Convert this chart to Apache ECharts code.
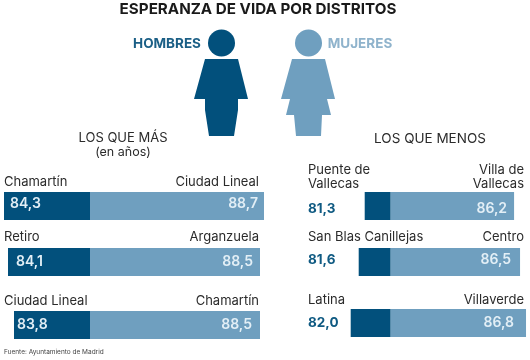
<!DOCTYPE html>
<html><head><meta charset="utf-8">
<style>html,body{margin:0;padding:0;background:#fff}#c{width:530px;height:360px}</style>
<script src="https://cdn.jsdelivr.net/npm/echarts@6/dist/echarts.min.js"></script>
</head><body><div id="c"></div>
<script>
const titleText = 'ESPERANZA DE VIDA POR DISTRITOS';
const hombresMas = ['Chamartín', 'Retiro', 'Ciudad Lineal'];
const hombresMasValues = [84.3, 84.1, 83.8];
const mujeresMas = ['Ciudad Lineal', 'Arganzuela', 'Chamartín'];
const mujeresMasValues = [88.7, 88.5, 88.5];
const hombresMenos = ['Puente de\nVallecas', 'San Blas Canillejas', 'Latina'];
const hombresMenosValues = [81.3, 81.6, 82.0];
const mujeresMenos = ['Villa de\nVallecas', 'Centro', 'Villaverde'];
const mujeresMenosValues = [86.2, 86.5, 86.8];
const baseYear = 80;

const DARK = '#02507c', LIGHT = '#6f9fbf', INK = '#2b2b2b';
const FONT = 'Inter, Roboto, sans-serif';
const fmt = v => v.toFixed(1).replace('.', ',');
const pxPerYear = 20;

const panels = [
  {center: 90, darkMax: 84.5, lightMax: 89, tops: [192, 248, 311], dn: hombresMas, dv: hombresMasValues, ln: mujeresMas, lv: mujeresMasValues,
   nameL: 4, nameR: 259, nameY: [182, 237, 301], inside: true, dPad: [6, 8, 3], lPad: [6, 7, 8], dy: [-2, 0, 0]},
  {center: 390.7, darkMax: 84.5, lightMax: 87, tops: [192, 248, 309], dn: hombresMenos, dv: hombresMenosValues, ln: mujeresMenos, lv: mujeresMenosValues,
   nameL: 308, nameR: 524, nameY: [177, 237, 300], inside: false, lPad: [7, 9, 12], dy: [3, -2, 0]}
];

const grid = [], xAxis = [], yAxis = [], series = [], graphic = [];
function addBar(left, width, top, min, max, inverse, value, color, labelOpt) {
  const i = grid.length;
  grid.push({left, top, width, height: 28, containLabel: false});
  xAxis.push({type: 'value', gridIndex: i, min, max, inverse, show: false});
  yAxis.push({type: 'category', gridIndex: i, data: [''], show: false});
  series.push({type: 'bar', xAxisIndex: i, yAxisIndex: i, data: [value], barWidth: 28,
    itemStyle: {color}, silent: true, label: labelOpt});
}
function txt(x, y, text, opt) {
  graphic.push({type: 'text', silent: true, x, y, style: Object.assign({
    text, fontFamily: FONT, fontSize: 13, fill: INK, textVerticalAlign: 'middle', lineHeight: 14
  }, opt || {})});
}
const numLabel = (position, distance, dy) => ({
  show: true, position, distance, offset: [0, dy], formatter: p => fmt(p.value),
  color: '#e3eff6', fontFamily: FONT, fontSize: 14, fontWeight: 600
});

panels.forEach(p => {
  p.tops.forEach((top, r) => {
    const dW = (p.darkMax - baseYear) * pxPerYear, lW = (p.lightMax - baseYear) * pxPerYear;
    addBar(p.center - dW, dW, top, baseYear, p.darkMax, true, p.dv[r], DARK,
      p.inside ? numLabel('insideLeft', p.dPad[r], p.dy[r]) : {show: false});
    addBar(p.center, lW, top, baseYear, p.lightMax, false, p.lv[r], LIGHT, numLabel('insideRight', p.lPad[r], p.dy[r]));
    txt(p.nameL, p.nameY[r], p.dn[r], {textAlign: 'left'});
    txt(p.nameR, p.nameY[r], p.ln[r], {textAlign: 'right'});
    if (!p.inside) txt(308, top + 14 + p.dy[r], fmt(p.dv[r]), {fill: '#0f5a82', fontSize: 13.5, fontWeight: 700, textAlign: 'left'});
  });
});

txt(258, 9, titleText, {fontSize: 15.2, fontWeight: 700, fill: '#1a1a1a', textAlign: 'center'});
txt(167, 44, 'HOMBRES', {fontSize: 13.5, fontWeight: 700, fill: '#1b5f86', textAlign: 'center'});
txt(360, 44, 'MUJERES', {fontSize: 13.5, fontWeight: 700, fill: '#8fb3cc', textAlign: 'center'});
txt(123, 138, 'LOS QUE MÁS', {fontSize: 13, textAlign: 'center'});
txt(123, 152, '(en años)', {fontSize: 12.5, textAlign: 'center'});
txt(430, 139, 'LOS QUE MENOS', {fontSize: 13.5, textAlign: 'center'});
txt(4, 352, 'Fuente: Ayuntamiento de Madrid', {fontSize: 6.5, fill: '#444', textAlign: 'left'});

graphic.push({type: 'circle', silent: true, shape: {cx: 221.5, cy: 43, r: 13.5}, style: {fill: DARK}});
graphic.push({type: 'circle', silent: true, shape: {cx: 308.5, cy: 43, r: 13.5}, style: {fill: LIGHT}});
graphic.push({type: 'polygon', silent: true, shape: {points: [[205,59],[238,59],[248,99],[238,99],[238,110],[234,136],[209,136],[205,110],[205,99],[194,99]]}, style: {fill: DARK}});
graphic.push({type: 'polygon', silent: true, shape: {points: [[292,59],[325,59],[335,99],[327,99],[331,115],[322,115],[321,136],[296,136],[294,115],[286,115],[290,99],[281,99]]}, style: {fill: LIGHT}});

echarts.init(document.getElementById('c'), null, {renderer: 'canvas'}).setOption({
  animation: false, backgroundColor: '#fff', grid, xAxis, yAxis, series, graphic
});
</script></body></html>
